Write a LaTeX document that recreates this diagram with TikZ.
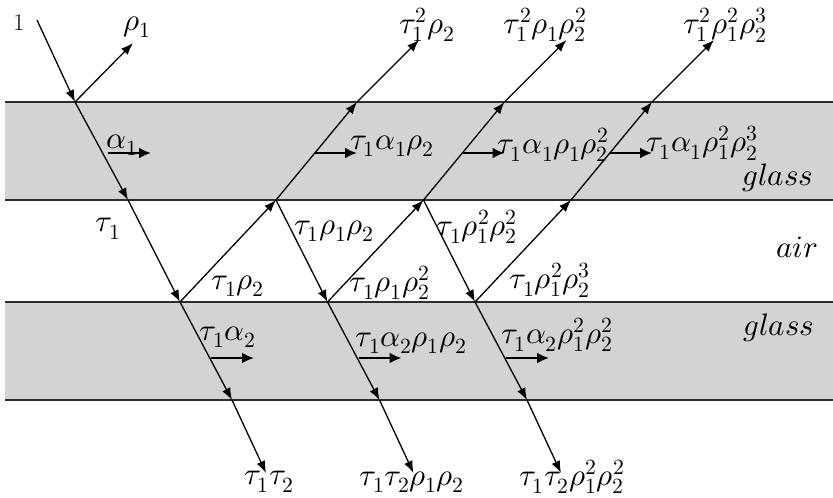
\documentclass[tikz,border=0pt]{standalone}
\usepackage{unicode-math}
\usetikzlibrary{arrows.meta}
\definecolor{glassgray}{RGB}{209,211,212}
\definecolor{edge}{RGB}{45,45,45}
\begin{document}
\begin{tikzpicture}[x=1pt,y=-1pt,
  ray/.style={line width=1.3pt,-{Latex[length=12pt,width=9pt]}},
  flux/.style={line width=2.6pt,-{Latex[length=12pt,width=11pt]}},
  lbl/.style={inner sep=0pt,font=\fontsize{31}{34}\selectfont},
  iface/.style={line width=1.8pt,draw=edge}]
\useasboundingbox (0,0) rectangle (833,498);
% glass slabs
\fill[glassgray] (5,102) rectangle (833,200);
\fill[glassgray] (5,302) rectangle (833,400);
\draw[iface] (5,102) -- (833,102);
\draw[iface] (5,200) -- (833,200);
\draw[iface] (5,302) -- (833,302);
\draw[iface] (5,400) -- (833,400);
% points
\coordinate (A0) at (37,20);
\coordinate (P1) at (75,102);
\coordinate (R1) at (133,43);
\coordinate (Q1) at (128,200);
\foreach \i/\b in {1/180,2/327.5,3/475}{
  \coordinate (B\i) at (\b,302);
  \coordinate (C\i) at (\b+52,400);
  \coordinate (T\i) at (\b+86,473);
  \coordinate (U\i) at (\b+96,200);
  \coordinate (V\i) at (\b+177,102);
  \coordinate (W\i) at (\b+239,40);
  \coordinate (F\i) at (\b+135,153);
  \coordinate (G\i) at (\b+177,153);
  \coordinate (H\i) at (\b+31,358);
  \coordinate (K\i) at (\b+74,358);
}
\coordinate (F0) at (108,153);
\coordinate (G0) at (151,153);
% rays
\draw[ray] (A0) -- (P1);
\draw[ray] (P1) -- (R1);
\draw[ray] (P1) -- (Q1);
\draw[ray] (Q1) -- (B1);
\foreach \i in {1,2,3}{
  \draw[ray] (B\i) -- (U\i);
  \draw[ray] (U\i) -- (V\i);
  \draw[ray] (V\i) -- (W\i);
  \draw[ray] (B\i) -- (C\i);
  \draw[ray] (C\i) -- (T\i);
  \draw[flux] (F\i) -- (G\i);
  \draw[flux] (H\i) -- (K\i);
}
\draw[ray] (U1) -- (B2);
\draw[ray] (U2) -- (B3);
\draw[flux] (F0) -- (G0);
% labels
\node[lbl,font=\fontsize{24}{26}\selectfont] (l1) at (19,23) {1};
\node[lbl] (lrho1) at (137,27) {$\rho_1$};
\node[lbl] (lalpha1) at (122,145) {$\alpha_1$};
\node[lbl] (ltau1) at (108,229) {$\tau_1$};
\node[lbl] (lw1) at (427,25) {$\tau_1^2\rho_2$};
\node[lbl] (lw2) at (545,25) {$\tau_1^2\rho_1\rho_2^2$};
\node[lbl] (lw3) at (725,25) {$\tau_1^2\rho_1^2\rho_2^3$};
\node[lbl] (lf1) at (392,146) {$\tau_1\alpha_1\rho_2$};
\node[lbl] (lf2) at (553,145) {$\tau_1\alpha_1\rho_1\rho_2^2$};
\node[lbl] (lf3) at (702,143) {$\tau_1\alpha_1\rho_1^2\rho_2^3$};
\node[lbl] (lglass1) at (778,178) {$glass$};
\node[lbl] (lair) at (797,247) {$air$};
\node[lbl] (lglass2) at (779,328) {$glass$};
\node[lbl] (ld1) at (334,231) {$\tau_1\rho_1\rho_2$};
\node[lbl] (ld2) at (477,227) {$\tau_1\rho_1^2\rho_2^2$};
\node[lbl] (lu1) at (238,286) {$\tau_1\rho_2$};
\node[lbl] (lu2) at (390,283) {$\tau_1\rho_1\rho_2^2$};
\node[lbl] (lu3) at (550,280) {$\tau_1\rho_1^2\rho_2^3$};
\node[lbl] (lh1) at (228,337) {$\tau_1\alpha_2$};
\node[lbl] (lh2) at (411,343) {$\tau_1\alpha_2\rho_1\rho_2$};
\node[lbl] (lh3) at (557,335) {$\tau_1\alpha_2\rho_1^2\rho_2^2$};
\node[lbl] (lt1) at (269,482) {$\tau_1\tau_2$};
\node[lbl] (lt2) at (412,482) {$\tau_1\tau_2\rho_1\rho_2$};
\node[lbl] (lt3) at (572,477) {$\tau_1\tau_2\rho_1^2\rho_2^2$};
\end{tikzpicture}
\end{document}
